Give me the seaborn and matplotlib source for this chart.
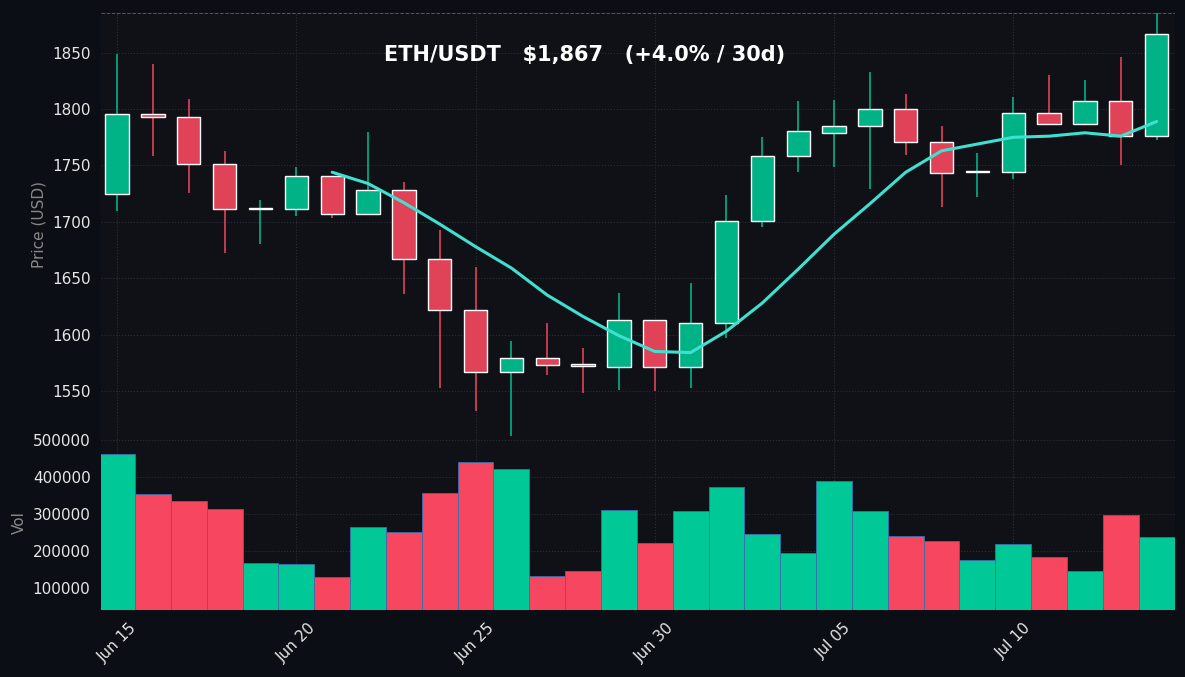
import numpy as np
import pandas as pd
import matplotlib
matplotlib.use("Agg")
import matplotlib.pyplot as plt
import seaborn as sns

dates = pd.date_range("2023-06-15", periods=30, freq="D")
opens = [1725,1796,1793,1751,1711,1711,1741,1707,1728,1667,1622,1567,1579,1574,1571,1613,1571,1610,1701,1758,1779,1785,1800,1771,1744,1744,1797,1787,1807,1776]
closes = [1796,1793,1751,1711,1712,1741,1707,1728,1667,1622,1567,1579,1573,1572,1613,1571,1610,1701,1758,1781,1785,1800,1771,1743,1745,1797,1787,1807,1776,1867]
highs = [1849,1840,1809,1763,1719,1749,1741,1780,1735,1693,1660,1594,1610,1588,1637,1613,1646,1724,1775,1807,1808,1833,1813,1785,1761,1811,1830,1826,1846,1885]
lows = [1710,1758,1726,1672,1680,1705,1703,1707,1636,1553,1532,1510,1564,1548,1551,1550,1553,1597,1695,1744,1749,1729,1759,1713,1722,1738,1786,1786,1750,1773]
volumes = [462000,353000,334000,312000,168000,163000,130000,263000,250000,356000,440000,421000,133000,144000,310000,222000,307000,372000,244000,193000,388000,307000,241000,225000,176000,217000,182000,144000,296000,236000]
ma_values = [np.nan]*6 + [1744,1734,1717,1698,1678,1659,1635,1616,1599,1585,1584,1603,1628,1658,1689,1716,1744,1763,1769,1775,1776,1779,1776,1789]

BG = "#0b0e14"; AX = "#0f1116"; UP = "#00b386"; DN = "#e04358"
VUP = "#00c896"; VDN = "#f74660"

sns.set_theme(style="dark")
plt.rcParams["font.family"] = ["DejaVu Sans"]

fig = plt.figure(figsize=(11.85, 6.77), dpi=100, facecolor=BG)
ax = fig.add_axes([0.0852, 0.356, 0.906, 0.626])
axv = fig.add_axes([0.0852, 0.099, 0.906, 0.257], sharex=ax)
for a in (ax, axv):
    a.set_facecolor(AX)
    a.grid(True, color="#2a2e38", linestyle=":", linewidth=0.8)
    for s in a.spines.values():
        s.set_visible(False)
    a.tick_params(colors="#e6e6e6", labelsize=11, length=4, color="#888")

x = np.arange(len(dates))
up = [c >= o for o, c in zip(opens, closes)]
cols = [UP if u else DN for u in up]
ax.vlines(x, lows, highs, colors=cols, linewidth=1.2, zorder=2)
bottoms = [min(o, c) for o, c in zip(opens, closes)]
heights = [max(abs(c - o), 1.5) for o, c in zip(opens, closes)]
ax.bar(x, heights, bottom=bottoms, width=0.65, color=cols, zorder=3)

df = pd.DataFrame({"x": x, "ma": ma_values})
sns.lineplot(data=df, x="x", y="ma", ax=ax, color="#40e0d0", linewidth=2.2, zorder=4)

ax.axhline(max(highs), color="#e04358", linestyle="--", linewidth=0.7, alpha=0.7)
ax.axhline(min(lows), color="#00b386", linestyle="--", linewidth=0.7, alpha=0.7)
ax.set_ylim(1510, 1886)
ax.set_xlim(-0.45, 29.5)
ax.set_ylabel("Price (USD)", color="#888888", fontsize=11)
ax.set_xlabel("")
ax.tick_params(axis="x", labelbottom=False)
ax.text(0.45, 0.9, "ETH/USDT   $1,867   (+4.0% / 30d)", transform=ax.transAxes,
        ha="center", va="center", color="white", fontsize=15, fontweight="bold")

vcols = [VUP if u else VDN for u in up]
axv.bar(x, volumes, width=1.0, color=vcols, edgecolor="#3a6fb0", linewidth=0.6)
axv.set_ylim(40000, 510000)
axv.set_yticks([100000, 200000, 300000, 400000, 500000])
axv.set_yticklabels(["100000", "200000", "300000", "400000", "500000"])
axv.set_ylabel("Vol", color="#888888", fontsize=11)
ticks = list(range(0, 30, 5))
axv.set_xticks(ticks)
axv.set_xticklabels([dates[i].strftime("%b %d") for i in ticks], rotation=45)
ax.set_yticks([1550, 1600, 1650, 1700, 1750, 1800, 1850])

fig.savefig("out.png", dpi=100, facecolor=BG)
